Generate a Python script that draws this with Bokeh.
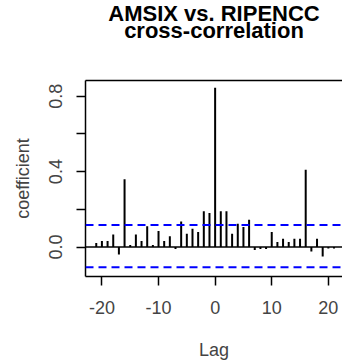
from bokeh.plotting import figure
from bokeh.models import FixedTicker, Range1d, Span, Title, LinearAxis
from bokeh.embed import file_html
from bokeh.resources import INLINE

# ---- data ----
lags = list(range(-21, 22))
coef = [0.021, 0.032, 0.032, 0.067, -0.039, 0.359, 0.011, 0.067, 0.032, 0.111,
        0.011, 0.085, 0.032, 0.058, -0.010, 0.136, 0.070, 0.097, 0.080, 0.190,
        0.180, 0.845, 0.190, 0.190, 0.070, 0.124, 0.106, 0.145, -0.016, -0.010,
        -0.010, 0.080, 0.027, 0.044, 0.027, 0.044, 0.044, 0.410, -0.023, 0.044,
        -0.050, -0.007, -0.008]
ci_upper = 0.117
ci_lower = -0.107
x_ticks = [-20, -10, 0, 10, 20]
x_tick_labels = ["-20", "-10", "0", "10", "20"]
y_ticks = [0.0, 0.2, 0.4, 0.6, 0.8]
y_tick_labels = ["0.0", "", "0.4", "", "0.8"]
title_line1 = "AMSIX vs. RIPENCC"
title_line2 = "cross-correlation"
x_label = "Lag"
y_label = "coefficient"

FONT = "Liberation Sans"

p = figure(width=342, height=363, output_backend="svg", toolbar_location=None,
           x_range=Range1d(-22.9, 22.5), y_range=Range1d(-0.156, 0.883),
           min_border_left=85, min_border_right=0, min_border_top=80,
           min_border_bottom=87)

p.background_fill_color = "white"
p.border_fill_color = "white"
p.outline_line_color = None
p.xgrid.visible = False
p.ygrid.visible = False

# bottom axis
xa = p.xaxis[0]
xa.ticker = FixedTicker(ticks=x_ticks)
xa.major_label_overrides = {t: l for t, l in zip(x_ticks, x_tick_labels)}
xa.axis_label = x_label
xa.axis_label_text_font = FONT
xa.axis_label_text_font_style = "normal"
xa.axis_label_text_font_size = "18px"
xa.axis_label_standoff = 23
xa.major_label_text_font = FONT
xa.major_label_text_font_size = "18px"
xa.major_label_standoff = 15
xa.major_tick_out = 9
xa.major_tick_in = 0
xa.minor_tick_out = 0
xa.minor_tick_in = 0
xa.major_tick_line_width = 1.5
xa.axis_line_width = 1.5
xa.axis_line_color = "black"

# left axis
ya = p.yaxis[0]
ya.ticker = FixedTicker(ticks=y_ticks)
ya.major_label_overrides = {t: l for t, l in zip(y_ticks, y_tick_labels)}
ya.major_label_orientation = "vertical"
ya.axis_label = y_label
ya.axis_label_text_font = FONT
ya.axis_label_text_font_style = "normal"
ya.axis_label_text_font_size = "18px"
ya.axis_label_standoff = 14
ya.major_label_text_font = FONT
ya.major_label_text_font_size = "18px"
ya.major_label_standoff = 14
ya.major_tick_out = 9
ya.major_tick_in = 0
ya.minor_tick_out = 0
ya.minor_tick_in = 0
ya.major_tick_line_width = 1.5
ya.axis_line_width = 1.5
ya.axis_line_color = "black"

# top border of the box (axis line only, no ticks); its blank label spaces the title
top = LinearAxis(ticker=FixedTicker(ticks=[]), major_label_text_font_size="0px",
                 major_label_standoff=0, major_tick_out=0, major_tick_in=0,
                 minor_tick_out=0, minor_tick_in=0,
                 axis_label=" ", axis_label_text_font_size="2px",
                 axis_label_standoff=33,
                 axis_line_width=1.5, axis_line_color="black")
p.add_layout(top, "above")

# title, two centred lines (closest to the box first)
p.add_layout(Title(text=title_line2, align="center", standoff=0, text_font=FONT,
                   text_font_style="bold", text_font_size="22px", text_color="black"), "above")
p.add_layout(Title(text=title_line1, align="center", standoff=-20, text_font=FONT,
                   text_font_style="bold", text_font_size="22px", text_color="black"), "above")

# zero line and confidence bounds
p.add_layout(Span(location=0, dimension="width", line_color="black", line_width=1.5))
for c in (ci_upper, ci_lower):
    p.add_layout(Span(location=c, dimension="width", line_color="#0000FF",
                      line_width=2, line_dash="8 5"))

# bars
p.segment(x0=lags, y0=[0] * len(lags), x1=lags, y1=coef, line_color="black", line_width=2)

open("out.html", "w").write(file_html(p, INLINE))
